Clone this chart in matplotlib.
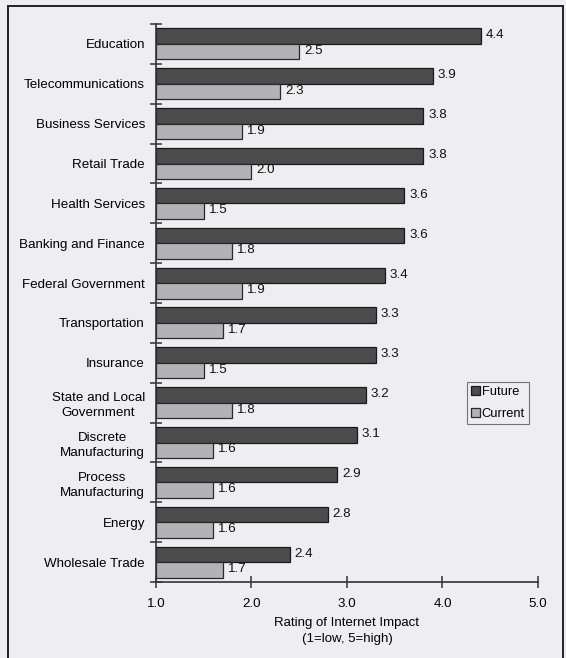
import numpy as np
import matplotlib.pyplot as plt
from matplotlib.patches import Rectangle

plt.rcParams['font.family'] = ['Liberation Sans', 'DejaVu Sans']

sectors = ["Education", "Telecommunications", "Business Services", "Retail Trade",
           "Health Services", "Banking and Finance", "Federal Government",
           "Transportation", "Insurance", "State and Local\nGovernment",
           "Discrete\nManufacturing", "Process\nManufacturing", "Energy",
           "Wholesale Trade"]
future = [4.4, 3.9, 3.8, 3.8, 3.6, 3.6, 3.4, 3.3, 3.3, 3.2, 3.1, 2.9, 2.8, 2.4]
current = [2.5, 2.3, 1.9, 2.0, 1.5, 1.8, 1.9, 1.7, 1.5, 1.8, 1.6, 1.6, 1.6, 1.7]
xticks = [1.0, 2.0, 3.0, 4.0, 5.0]

bg = '#eeeef0'
fig = plt.figure(figsize=(5.66, 6.58), dpi=100, facecolor=bg)
ax = fig.add_axes([0.2756, 0.1155, 0.6749, 0.848])
ax.set_facecolor(bg)

# outer frame
fig.patches.append(Rectangle((0.014, -0.01), 0.981, 1.001, transform=fig.transFigure,
                             fill=False, edgecolor='#222222', linewidth=1.4))

y = np.arange(len(sectors))
h = 0.39
fs = 9.6
ax.barh(y - h / 2, np.array(future) - 1, height=h, left=1, color='#4c4c4c',
        edgecolor='#1a1a1a', linewidth=0.9, label='Future')
ax.barh(y + h / 2, np.array(current) - 1, height=h, left=1, color='#b3b3b5',
        edgecolor='#2a2a2a', linewidth=0.9, label='Current')

for i in range(len(sectors)):
    ax.text(future[i] + 0.05, y[i] - h / 2 - 0.02, f"{future[i]:.1f}", va='center',
            ha='left', fontsize=fs, color='#111111')
    ax.text(current[i] + 0.05, y[i] + h / 2 - 0.02, f"{current[i]:.1f}", va='center',
            ha='left', fontsize=fs, color='#111111')

ax.set_xlim(1, 5)
ax.set_ylim(13.5, -0.5)
ax.set_xticks(xticks)
ax.set_xticklabels([f"{v:.1f}" for v in xticks], fontsize=fs)
ax.set_yticks(y)
ax.set_yticklabels(sectors, fontsize=fs, multialignment='center', linespacing=1.35)
ax.set_yticks(np.arange(-0.5, len(sectors), 1), minor=True)
ax.tick_params(axis='y', which='major', length=0, pad=8)
ax.tick_params(axis='y', which='minor', direction='inout', length=8, width=1.1, color='#333333')
ax.tick_params(axis='x', direction='inout', length=9, width=1.1, color='#333333', pad=7)

for s in ['top', 'right']:
    ax.spines[s].set_visible(False)
for s in ['left', 'bottom']:
    ax.spines[s].set_color('#333333')
    ax.spines[s].set_linewidth(1.2)

ax.set_xlabel("Rating of Internet Impact\n(1=low, 5=high)", fontsize=9.5,
              labelpad=5, linespacing=1.45)

leg = ax.legend(loc='upper left', bbox_to_anchor=(0.815, 0.358), fontsize=9.3,
                frameon=True, fancybox=False, handlelength=0.65, handleheight=0.65,
                handletextpad=0.15, borderpad=0.3, borderaxespad=0,
                labelspacing=0.75)
leg.get_frame().set_edgecolor('#555555')
leg.get_frame().set_facecolor(bg)
leg.get_frame().set_linewidth(0.8)

plt.savefig('out.png', dpi=100, facecolor=bg)
